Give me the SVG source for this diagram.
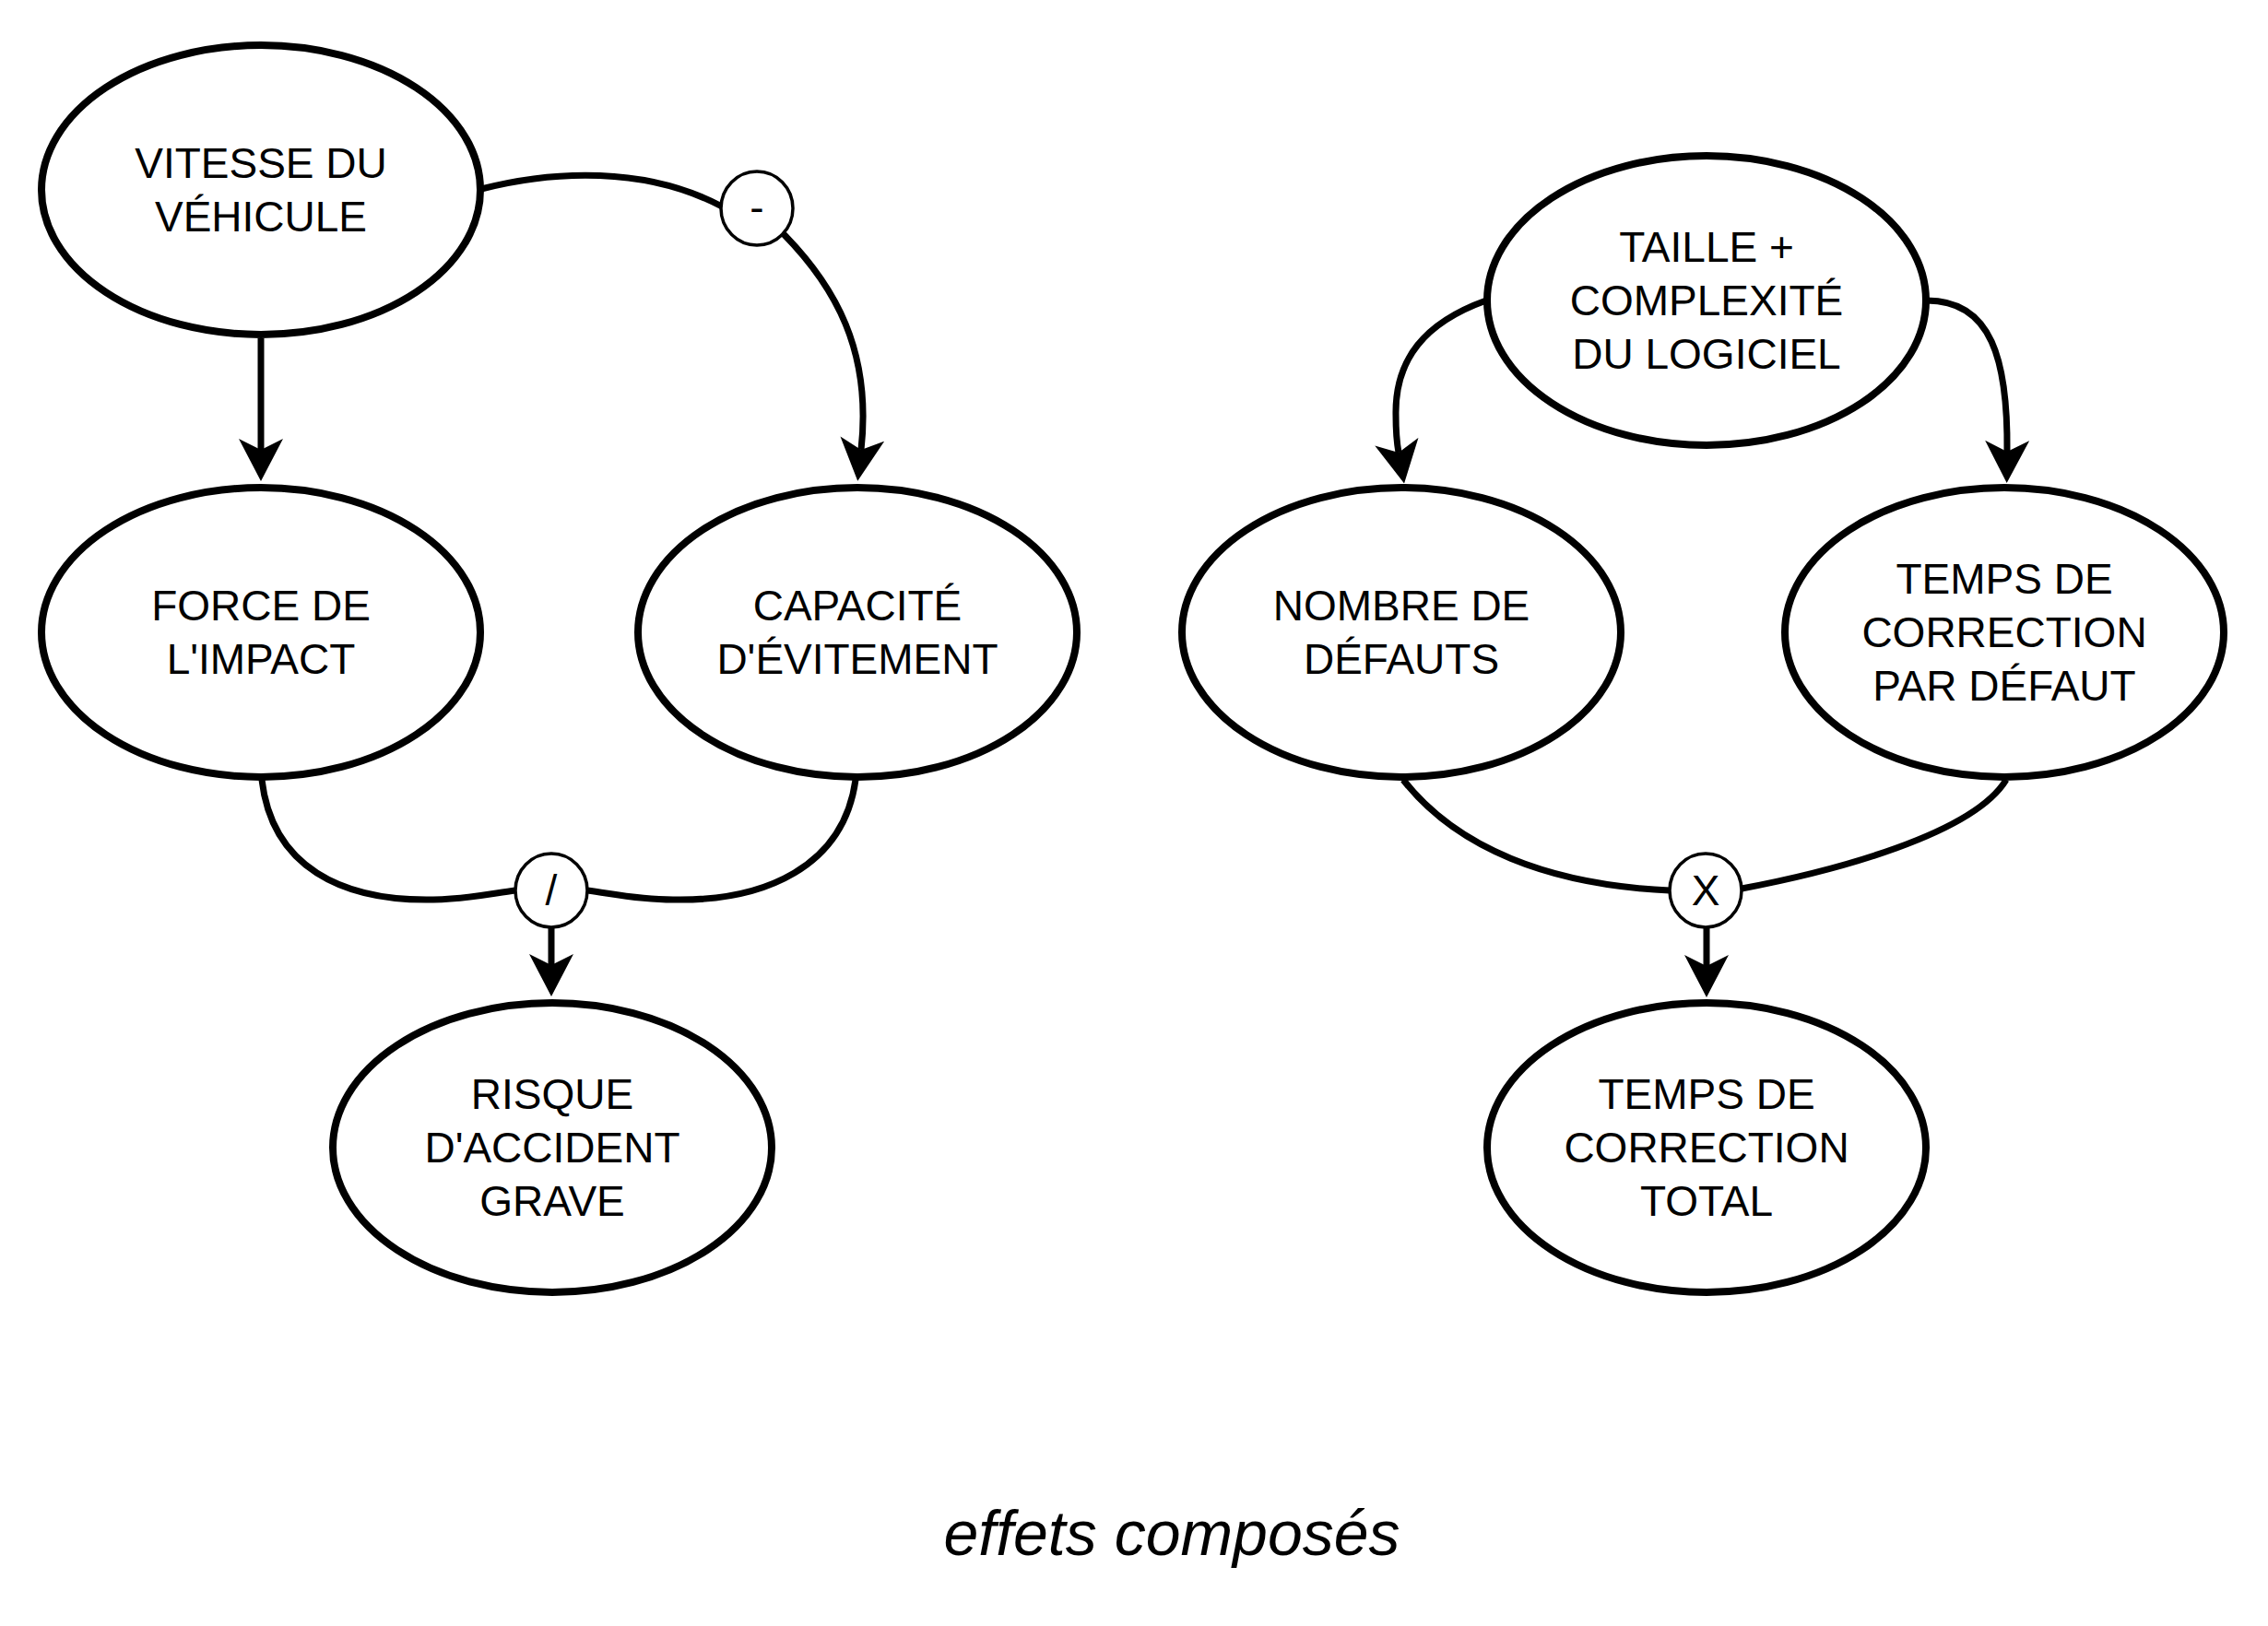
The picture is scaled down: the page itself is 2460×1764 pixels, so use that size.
<svg xmlns="http://www.w3.org/2000/svg" width="2460" height="1764" viewBox="0 0 2460 1764">
<style>
.node ellipse{fill:#fff;stroke:#000;stroke-width:8}
.op ellipse{fill:#fff;stroke:#000;stroke-width:3.5}
text{font-family:"Liberation Sans",Arial,Helvetica,sans-serif;font-size:46px;fill:#000;text-anchor:middle}
.edge{fill:none;stroke:#000;stroke-width:7}
.title{font-size:68px;font-style:italic}
</style>
<defs>
<marker id="arr" markerUnits="userSpaceOnUse" markerWidth="46" markerHeight="48" viewBox="0 0 46 48" refX="12" refY="24" orient="auto">
<path d="M0,0 L46,24 L0,48 L12,24 Z" fill="#000"/>
</marker>
</defs>
<rect width="2460" height="1764" fill="#fff"/>
<g id="connectors">
<path class="edge" d="M283 367 L283 488" marker-end="url(#arr)"/>
<path class="edge" d="M522 205 C600 185 700 180 783 224"/>
<path class="edge" d="M850 254 C905 310 946 380 934 488" marker-end="url(#arr)"/>
<path class="edge" d="M284 846 C295 940 370 978 470 976 C510 975 535 969 559 966"/>
<path class="edge" d="M637 966 C662 969 690 976 730 976 C830 978 915 940 928 846"/>
<path class="edge" d="M598 1006 L598 1047" marker-end="url(#arr)"/>
<path class="edge" d="M1612 326 C1545 350 1513 390 1514 450 C1514 470 1515 480 1517 491" marker-end="url(#arr)"/>
<path class="edge" d="M2090 326 C2160 326 2178 390 2177 490" marker-end="url(#arr)"/>
<path class="edge" d="M1522 846 C1580 920 1680 960 1811 966"/>
<path class="edge" d="M1889 964 C1990 945 2140 905 2176 846"/>
<path class="edge" d="M1851 1006 L1851 1048" marker-end="url(#arr)"/>
</g>
<g id="n-vitesse" class="node"><ellipse cx="283" cy="206" rx="238" ry="157"/><text x="283" y="193">VITESSE DU</text><text x="283" y="251">VÉHICULE</text></g>
<g id="n-force" class="node"><ellipse cx="283" cy="686" rx="238" ry="157"/><text x="283" y="673">FORCE DE</text><text x="283" y="731">L'IMPACT</text></g>
<g id="n-capacite" class="node"><ellipse cx="930" cy="686" rx="238" ry="157"/><text x="930" y="673">CAPACITÉ</text><text x="930" y="731">D'ÉVITEMENT</text></g>
<g id="n-risque" class="node"><ellipse cx="599" cy="1245" rx="238" ry="157"/><text x="599" y="1203">RISQUE</text><text x="599" y="1261">D'ACCIDENT</text><text x="599" y="1319">GRAVE</text></g>
<g id="n-taille" class="node"><ellipse cx="1851" cy="326" rx="238" ry="157"/><text x="1851" y="284">TAILLE +</text><text x="1851" y="342">COMPLEXITÉ</text><text x="1851" y="400">DU LOGICIEL</text></g>
<g id="n-nombre" class="node"><ellipse cx="1520" cy="686" rx="238" ry="157"/><text x="1520" y="673">NOMBRE DE</text><text x="1520" y="731">DÉFAUTS</text></g>
<g id="n-temps-defaut" class="node"><ellipse cx="2174" cy="686" rx="238" ry="157"/><text x="2174" y="644">TEMPS DE</text><text x="2174" y="702">CORRECTION</text><text x="2174" y="760">PAR DÉFAUT</text></g>
<g id="n-temps-total" class="node"><ellipse cx="1851" cy="1245" rx="238" ry="157"/><text x="1851" y="1203">TEMPS DE</text><text x="1851" y="1261">CORRECTION</text><text x="1851" y="1319">TOTAL</text></g>
<g id="op-minus" class="op"><ellipse cx="821" cy="226" rx="39" ry="40"/><text x="821" y="241">-</text></g>
<g id="op-div" class="op"><ellipse cx="598" cy="966" rx="39" ry="40"/><text x="598" y="982">/</text></g>
<g id="op-mul" class="op"><ellipse cx="1850" cy="966" rx="39" ry="40"/><text x="1850" y="982">X</text></g>
<text class="title" x="1271" y="1687">effets composés</text>
</svg>
